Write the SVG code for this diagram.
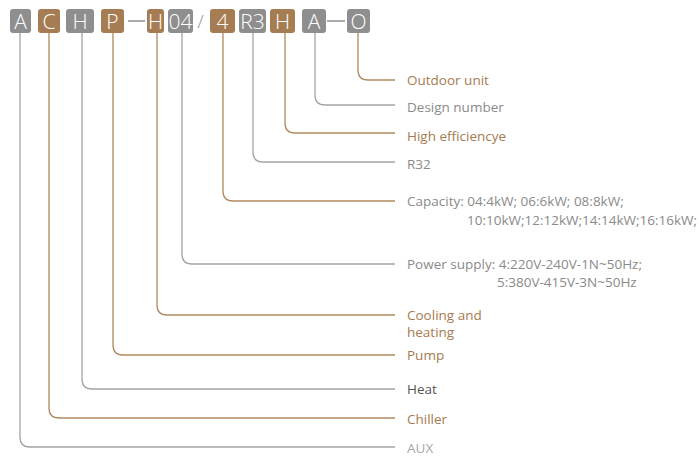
<svg xmlns="http://www.w3.org/2000/svg" width="699" height="457" viewBox="0 0 699 457">
<style>
.bg{fill:#8e8e8e}
.bb{fill:#a67d52}
.bt{font-family:"Open Sans","Liberation Sans",sans-serif;font-size:21px;fill:#fff;text-anchor:middle;font-weight:300}
.lg{fill:none;stroke:#a3a3a3;stroke-width:1.3}
.lb{fill:none;stroke:#b08a60;stroke-width:1.3}
.t{font-family:"Open Sans","Liberation Sans",sans-serif;font-size:13.5px;dominant-baseline:central}
.tb{fill:#a57b4f}
.tg{fill:#8a8a8a}
.td{fill:#555}
.tl{fill:#a8a8a8}
.sep{font-family:"Open Sans","Liberation Sans",sans-serif;font-size:18px;fill:#8e8e8e;font-weight:300}
</style>
<rect width="699" height="457" fill="#fff"/>
<g id="codes">
<g id="c-A"><rect class="bg" x="10" y="9" width="21" height="24" rx="3"/><text class="bt" x="20.5" y="29">A</text></g>
<g id="c-C"><rect class="bb" x="38" y="9" width="22" height="24" rx="3"/><text class="bt" x="49" y="29">C</text></g>
<g id="c-H"><rect class="bg" x="66" y="9" width="28" height="24" rx="3"/><text class="bt" x="80" y="29">H</text></g>
<g id="c-P"><rect class="bb" x="101" y="9" width="23" height="24" rx="3"/><text class="bt" x="112.5" y="29">P</text></g>
<line x1="128" y1="21" x2="145" y2="21" stroke="#8e8e8e" stroke-width="1.5"/>
<g id="c-H2"><rect class="bb" x="147" y="9" width="17" height="24" rx="3"/><text class="bt" x="155.5" y="29">H</text></g>
<g id="c-04"><rect class="bg" x="168" y="9" width="25" height="24" rx="3"/><text class="bt" x="180.5" y="29">04</text></g>
<text class="sep" x="200.5" y="28" text-anchor="middle">/</text>
<g id="c-4"><rect class="bb" x="210" y="9" width="25" height="24" rx="3"/><text class="bt" x="222.5" y="29">4</text></g>
<g id="c-R3"><rect class="bg" x="239" y="9" width="27" height="24" rx="3"/><text class="bt" x="252.5" y="29">R3</text></g>
<g id="c-H3"><rect class="bb" x="270" y="9" width="25" height="24" rx="3"/><text class="bt" x="282.5" y="29">H</text></g>
<g id="c-A2"><rect class="bg" x="302" y="9" width="24" height="24" rx="3"/><text class="bt" x="314" y="29">A</text></g>
<line x1="327" y1="21" x2="345" y2="21" stroke="#8e8e8e" stroke-width="1.5"/>
<g id="c-O"><rect class="bg" x="347" y="9" width="23" height="24" rx="3"/><text class="bt" x="358.5" y="29">O</text></g>
</g>
<g id="connectors">
<path class="lb" d="M358 33 V70 Q358 80 368 80 H395"/>
<path class="lg" d="M315 33 V95 Q315 105 325 105 H395"/>
<path class="lb" d="M285 33 V123 Q285 133 295 133 H395"/>
<path class="lg" d="M253 33 V152 Q253 162 263 162 H395"/>
<path class="lb" d="M223 33 V191 Q223 201 233 201 H395"/>
<path class="lg" d="M182 33 V254 Q182 264 192 264 H395"/>
<path class="lb" d="M157 33 V305 Q157 315 167 315 H395"/>
<path class="lb" d="M113 33 V345 Q113 355 123 355 H395"/>
<path class="lg" d="M82 33 V379 Q82 389 92 389 H395"/>
<path class="lb" d="M49 33 V408 Q49 418 59 418 H395"/>
<path class="lg" d="M20 33 V437 Q20 447 30 447 H395"/>
</g>
<g id="labels">
<text class="t tb" x="407" y="80">Outdoor unit</text>
<text class="t tg" x="407" y="107">Design number</text>
<text class="t tb" x="407" y="136">High efficiencye</text>
<text class="t tg" x="407" y="164">R32</text>
<text class="t tg" x="407" y="201">Capacity: 04:4kW; 06:6kW; 08:8kW;</text>
<text class="t tg" x="467" y="220">10:10kW;12:12kW;14:14kW;16:16kW;</text>
<text class="t tg" x="407" y="264">Power supply: 4:220V-240V-1N~50Hz;</text>
<text class="t tg" x="497" y="282">5:380V-415V-3N~50Hz</text>
<text class="t tb" x="407" y="315">Cooling and</text>
<text class="t tb" x="407" y="332">heating</text>
<text class="t tb" x="407" y="355">Pump</text>
<text class="t td" x="407" y="389">Heat</text>
<text class="t tb" x="407" y="419">Chiller</text>
<text class="t tl" x="407" y="448">AUX</text>
</g>
</svg>
